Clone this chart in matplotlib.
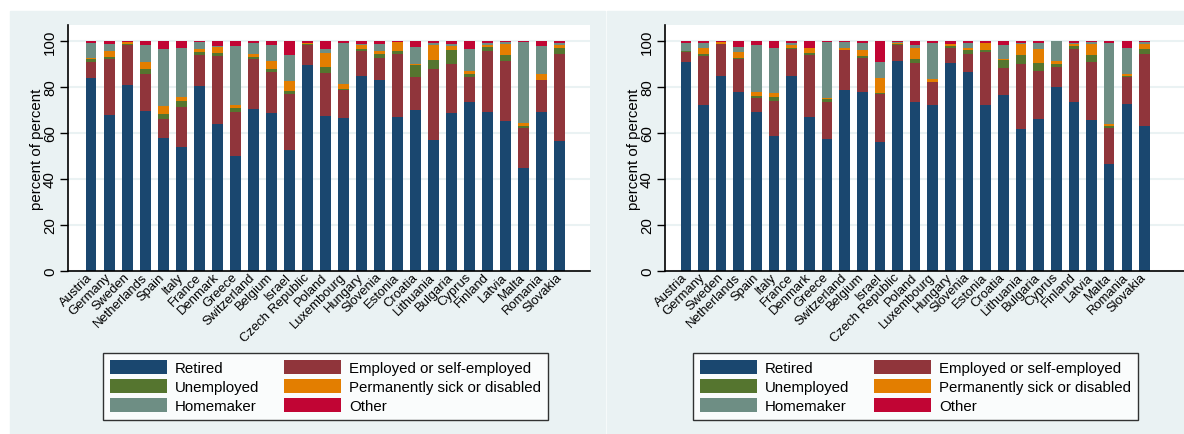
import matplotlib.pyplot as plt
from matplotlib.patches import Rectangle

plt.rcParams['font.family'] = ['Liberation Sans', 'DejaVu Sans']

countries = ['Austria', 'Germany', 'Sweden', 'Netherlands', 'Spain', 'Italy', 'France',
             'Denmark', 'Greece', 'Switzerland', 'Belgium', 'Israel', 'Czech Republic',
             'Poland', 'Luxembourg', 'Hungary', 'Slovenia', 'Estonia', 'Croatia',
             'Lithuania', 'Bulgaria', 'Cyprus', 'Finland', 'Latvia', 'Malta', 'Romania',
             'Slovakia']
statuses = ['Retired', 'Employed or self-employed', 'Unemployed',
            'Permanently sick or disabled', 'Homemaker', 'Other']
colors = ['#1a476f', '#90353b', '#55752f', '#e37e00', '#6e8e84', '#c10534']

# left graph, percent per country
retired_1 = [84.0, 67.8, 80.8, 69.4, 57.8, 53.8, 80.4, 63.9, 49.9, 70.4, 68.8, 52.5, 89.6, 67.2,
             66.3, 84.8, 83.0, 66.9, 70.0, 56.9, 68.7, 73.4, 69.2, 65.2, 44.6, 69.1, 56.6]
employed_1 = [7.0, 24.4, 17.5, 16.2, 8.2, 17.5, 13.6, 29.6, 19.2, 21.8, 17.6, 24.4, 8.7, 19.0,
              12.4, 10.8, 9.5, 27.4, 14.2, 30.9, 21.3, 11.1, 26.6, 26.1, 17.5, 13.9, 37.7]
unemployed_1 = [1.0, 0.8, 0.3, 2.2, 2.2, 2.6, 1.4, 1.3, 1.7, 0.8, 1.3, 1.5, 0.3, 2.5,
                0.3, 1.1, 1.8, 1.3, 5.4, 3.9, 6.2, 1.1, 1.6, 2.6, 0.9, 0.2, 2.7]
sick_1 = [0.5, 2.6, 0.8, 3.3, 3.5, 1.9, 1.3, 2.7, 1.5, 1.3, 3.6, 4.3, 0.5, 6.1,
          2.3, 1.8, 1.3, 3.8, 0.5, 6.7, 1.6, 1.5, 1.1, 4.8, 1.3, 2.4, 1.4]
homemaker_1 = [6.8, 3.1, 0.2, 7.2, 24.8, 21.2, 2.7, 0.5, 25.5, 4.8, 7.0, 11.2, 0.1, 1.9,
               17.8, 0.2, 3.1, 0.2, 7.3, 0.9, 0.9, 9.4, 0.6, 0.9, 35.3, 12.4, 0.7]
other_1 = [0.7, 1.3, 0.4, 1.7, 3.5, 3.0, 0.6, 2.0, 2.2, 0.9, 1.7, 6.1, 0.8, 3.3,
           0.9, 1.3, 1.3, 0.4, 2.6, 0.7, 1.3, 3.5, 0.9, 0.4, 0.4, 2.0, 0.9]

# right graph
retired_2 = [90.7, 72.3, 84.8, 77.8, 69.0, 58.7, 85.0, 67.0, 57.5, 78.7, 78.0, 56.0, 91.3, 73.4,
             72.1, 90.3, 86.5, 72.1, 76.6, 61.8, 66.1, 80.1, 73.4, 65.7, 46.4, 72.5, 63.1]
employed_2 = [4.4, 21.0, 14.0, 14.3, 6.0, 15.3, 11.4, 27.0, 16.0, 17.3, 14.7, 21.0, 7.0, 16.9,
              10.0, 6.6, 7.8, 23.2, 11.6, 28.0, 20.7, 8.6, 23.1, 25.2, 15.7, 11.7, 31.1]
unemployed_2 = [0.4, 0.9, 0.1, 0.7, 1.2, 1.6, 0.6, 0.9, 1.3, 0.3, 0.6, 0.3, 0.4, 1.9,
                0.2, 0.8, 1.9, 1.0, 3.5, 4.3, 3.6, 1.4, 1.3, 3.1, 0.9, 0.4, 2.3]
sick_2 = [0.2, 2.6, 0.5, 2.5, 1.8, 2.0, 1.4, 2.0, 0.5, 0.7, 2.8, 6.5, 0.6, 4.9,
          1.3, 1.0, 0.7, 2.8, 0.7, 4.6, 6.3, 1.3, 1.0, 4.8, 0.8, 1.2, 2.2]
homemaker_2 = [3.6, 2.5, 0.1, 2.2, 20.5, 19.6, 0.9, 0.3, 24.2, 2.4, 3.2, 6.9, 0.1, 1.2,
               15.5, 0.1, 2.2, 0.1, 6.0, 0.6, 2.4, 8.6, 0.3, 0.6, 35.5, 11.0, 0.7]
other_2 = [0.7, 0.7, 0.5, 2.5, 1.5, 2.8, 0.7, 2.8, 0.5, 0.6, 0.7, 9.3, 0.6, 1.7,
           0.9, 1.2, 0.9, 0.8, 1.6, 0.7, 0.9, 0.0, 0.9, 0.6, 0.7, 3.2, 0.6]

W, H = 1184, 435
bg = '#eaf2f3'

fig = plt.figure(figsize=(W / 100, H / 100), dpi=100)
fig.patch.set_facecolor('white')

# graph regions (px): background left/right edge, plot area left/right edge, legend corner
panels = [
    (10, 604.5, 68, 590, 103, [retired_1, employed_1, unemployed_1, sick_1, homemaker_1, other_1], -1.28, 27.68),
    (607, 1184, 665, 1184, 693, [retired_2, employed_2, unemployed_2, sick_2, homemaker_2, other_2], -1.18, 28.24),
]

for bx0, bx1, px0, px1, lx, series, xmin, xmax in panels:
    fig.patches.append(Rectangle((bx0 / W, 0), (bx1 - bx0) / W, (H - 12) / H,
                                 transform=fig.transFigure, color=bg, zorder=-10))
    ax = fig.add_axes([px0 / W, 1 - 271.7 / H, (px1 - px0) / W, (271.7 - 26) / H])
    ax.set_facecolor('white')

    x = range(len(countries))
    bottom = [0] * len(countries)
    bars = []
    for vals, col in zip(series, colors):
        b = ax.bar(x, vals, 0.6, bottom=bottom, color=col, linewidth=0)
        bars.append(b)
        bottom = [a + v for a, v in zip(bottom, vals)]

    ax.set_xlim(xmin, xmax)
    ax.set_ylim(0, 107)
    ax.set_yticks(range(0, 101, 20))
    ax.yaxis.grid(True, color=bg, linewidth=1.5)
    ax.set_axisbelow(True)
    ax.tick_params(axis='y', labelrotation=90, length=6, width=1, pad=2, labelsize=10.8)
    for t in ax.get_yticklabels():
        t.set_va('center')
    ax.set_xticks(list(x))
    ax.set_xticklabels(countries, rotation=45, ha='right', va='center',
                       rotation_mode='anchor', fontsize=9.4)
    ax.tick_params(axis='x', length=0, pad=3)
    ax.set_ylabel('percent of percent', fontsize=10.8, labelpad=-1)
    for s in ['top', 'right']:
        ax.spines[s].set_visible(False)
    for s in ['left', 'bottom']:
        ax.spines[s].set_linewidth(1.2)

    order = [0, 2, 4, 1, 3, 5]
    leg = ax.legend([bars[i] for i in order], [statuses[i] for i in order],
                    loc='upper left', bbox_to_anchor=(lx / W, 1 - 354 / H),
                    bbox_transform=fig.transFigure, ncol=2, fontsize=10.8,
                    handlelength=3.8, handleheight=1.07, handletextpad=0.53,
                    columnspacing=1.67, labelspacing=0.27, borderpad=0.45,
                    borderaxespad=0, frameon=True, fancybox=False)
    leg.get_frame().set_edgecolor('black')
    leg.get_frame().set_linewidth(1)

fig.savefig('out.png', dpi=100, facecolor='white')
